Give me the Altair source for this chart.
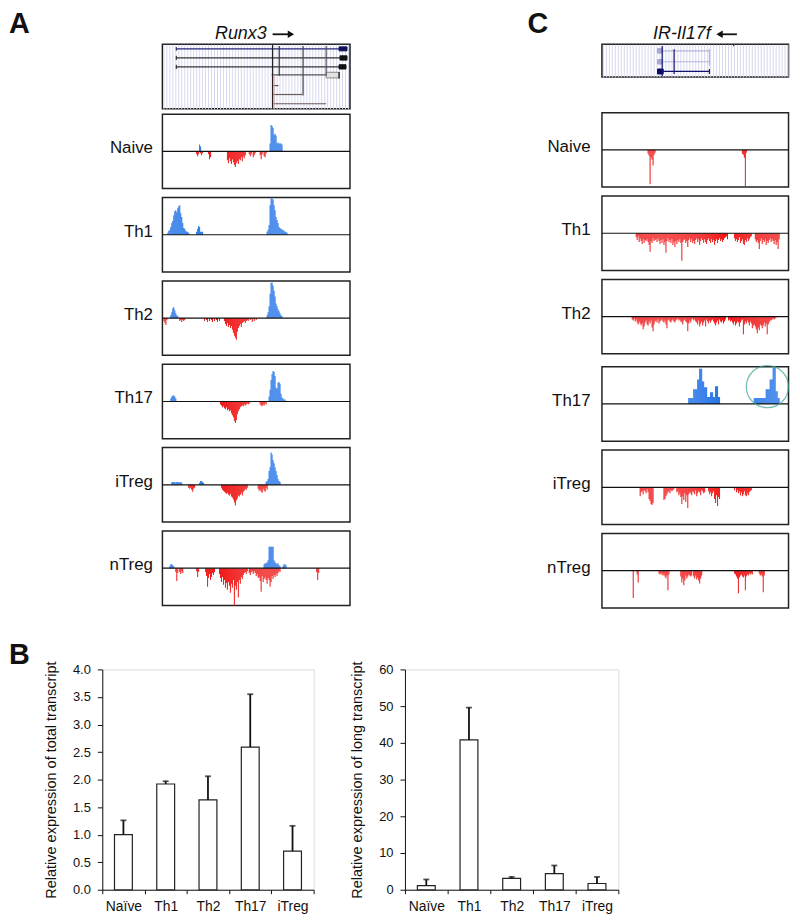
import altair as alt
import pandas as pd

FONT = "Liberation Sans"
BLUE = "#1a6de6"
RED = "#f01414"
INK = "#111111"

CELLS = ["Naive", "Th1", "Th2", "Th17", "iTreg", "nTreg"]
PANEL_LETTERS = ["A", "B", "C"]
GENE_TITLES = ["Runx3", "IR-Il17f"]

# ---------------- Panel A: Runx3 strand-specific read density (bin, values) ----------------
RUNX3_PLUS = {
    "Naive": [(37, [7, 5]), (108, [8, 27, 26, 24, 17, 18, 16, 8, 9, 8, 8, 8, 7])],
    "Th1": [(5, [2, 4, 5, 8, 12, 14, 20, 24, 25, 23, 27, 29, 30, 22, 18, 12, 7, 6, 4, 3, 3, 2]),
            (34, [3, 6, 9, 8, 3, 3, 3]),
            (105, [3, 5, 10, 30, 37, 37, 36, 30, 25, 18, 15, 12, 8, 7, 6, 5, 5, 4, 3, 3, 2])],
    "Th2": [(8, [3, 6, 10, 11, 8, 5, 3, 2]),
            (105, [3, 6, 12, 25, 36, 36, 33, 28, 22, 15, 12, 9, 7, 5, 3, 2])],
    "Th17": [(8, [3, 5, 6, 6, 5, 3]),
             (107, [5, 12, 22, 28, 31, 30, 26, 14, 13, 19, 20, 18, 8, 4, 3, 2, 2])],
    "iTreg": [(9, [3, 3, 3, 3, 2, 3, 3, 3, 2, 3, 2]), (37, [2, 4, 4, 3, 2]),
              (104, [3, 4, 6, 14, 18, 33, 31, 25, 22, 18, 14, 10, 6, 4, 3])],
    "nTreg": [(7, [2, 4, 4, 3, 2]),
              (102, [4, 5, 5, 6, 8, 22, 22, 22, 22, 22, 8, 6, 5, 4, 5, 3, 2]),
              (121, [2, 4, 4, 3])],
}
RUNX3_MINUS = {
    "Naive": [(34, [3, 5, 3, 0, 2, 4, 2]), (46, [3, 8, 6]),
              (65, [9, 12, 7, 10, 13, 8, 11, 14, 16, 12, 10, 13, 8, 9, 6, 10, 5, 7, 4]),
              (87, [3, 5, 3, 0, 6, 4, 2]), (98, [4, 8, 3, 0, 5, 6, 2])],
    "Th1": [],
    "Th2": [(1, [3, 5, 7, 2]), (17, [3, 2, 4, 2, 3, 2]),
            (42, [3, 0, 2, 4, 0, 3, 0, 2, 4, 0, 3, 0, 2, 4, 0, 3]),
            (62, [3, 6, 8, 5, 9, 7, 10, 8, 12, 15, 18, 20, 22, 14, 10, 8, 6, 9, 5, 4, 3, 5, 3, 2]),
            (86, [3, 0, 2, 0, 4, 0, 3, 0, 2])],
    "Th17": [(58, [3, 4, 6, 5, 7, 8, 6, 9, 8, 10, 9, 12, 14, 16, 20, 22, 19, 13, 10, 8,
                   6, 5, 4, 5, 3, 4, 3, 2, 3, 2]),
             (98, [3, 4, 5, 3, 4, 2, 3])],
    "iTreg": [(26, [3, 4, 3, 5, 7, 4, 3]),
              (59, [3, 5, 6, 7, 8, 9, 8, 10, 11, 9, 12, 13, 15, 18, 21, 16, 14, 11, 12, 10,
                    8, 11, 7, 6, 4, 5, 3]),
              (96, [4, 6, 5, 7, 8, 4, 6, 7, 3, 5])],
    "nTreg": [(13, [4, 13, 5, 0, 4, 6, 3, 5]), (34, [3, 9, 4]),
              (43, [4, 8, 19, 10, 6, 12, 9, 5, 7, 4]),
              (57, [6, 10, 14, 9, 17, 12, 20, 15, 22, 14, 18, 25, 16, 20, 12, 40, 18, 22, 14, 30,
                    12, 16, 9, 11, 7, 5]),
              (83, [4, 6, 3, 0, 5, 7, 4, 3, 6, 3]),
              (93, [5, 8, 6, 10, 9, 13, 24, 8, 14, 11, 9, 12, 16, 10, 12, 19, 14, 8, 11, 7,
                    9, 6, 8, 5, 3, 4]),
              (155, [4, 12, 5])],
}

# ---------------- Panel C: IR-Il17f ----------------
IL17F_PLUS = {
    "Naive": [], "Th1": [], "Th2": [], "iTreg": [], "nTreg": [],
    "Th17": [(87, [6, 6, 6, 6, 6, 15, 15, 15, 15, 25, 25, 36, 36, 36, 23, 23, 17, 17, 17, 7,
                   7, 7, 12, 12, 12, 7, 7, 18, 18, 18, 7, 7]),
             (153, [6, 6, 6, 6, 6, 6, 6, 6, 6, 6, 6, 6, 15, 15, 15, 15, 25, 25, 25, 37, 37, 37,
                    13, 13, 6, 6])],
}
IL17F_MINUS = {
    "Naive": [(46, [4, 6, 35, 8, 10, 16, 5, 3]), (141, [4, 5, 8, 37, 3])],
    "Th1": [(34, [4, 7, 3, 9, 5, 8, 11, 6, 10, 7, 8, 6, 9, 12, 19, 8, 10, 5, 8, 7,
                  6, 9, 5, 8, 11, 7, 10, 6, 12, 9, 20, 8, 5, 9, 7, 10, 6, 12, 9, 14,
                  8, 11, 7, 9, 6, 10, 28, 9, 7, 6, 10, 8, 14, 7, 5, 9, 6, 10, 8, 11,
                  7, 5, 9, 6, 12, 8, 5, 7, 10, 6, 9, 11, 7, 5, 8, 10, 6, 9, 7, 12,
                  8, 6, 10, 7, 5, 8, 6, 9, 7, 5, 4, 3, 6]),
            (133, [5, 8, 6, 9, 7, 4, 10, 8, 6, 11, 12, 7, 9, 5, 8, 6, 4, 3]),
            (154, [6, 9, 7, 10, 16, 8, 5, 11, 7, 9, 6, 12, 8, 10, 7, 5, 9, 6, 8, 11,
                   7, 12, 9, 16, 6])],
    "Th2": [(30, [3, 4, 2, 5, 3, 6, 8, 5, 7, 9, 7, 13, 10, 6, 4, 8, 9, 5, 7, 4,
                  11, 15, 8, 5, 4, 6, 3, 7, 5, 4, 3, 5, 6, 4, 8, 12, 4, 3, 5, 6,
                  4, 3, 5, 6, 4, 3, 2, 4, 3, 5, 6, 8, 4, 3, 5, 6, 15, 7, 4, 6,
                  3, 2, 4, 3, 5, 6, 8, 4, 10, 7, 5, 9, 6, 4, 10, 3, 5, 7, 4, 6,
                  4, 3, 5, 7, 9, 6, 4, 8, 3, 5, 6, 4, 7, 5, 3, 0, 0, 4, 3, 5,
                  4, 6, 8, 5, 9, 7, 5, 6, 10, 6, 4, 3, 18, 8, 5, 7, 4, 6, 9, 5,
                  7, 12, 9, 8, 10, 13, 17, 11, 14, 8, 9, 12, 9, 6, 10, 7, 18, 8, 6, 4,
                  4, 3, 2, 3, 2, 1])],
    "Th17": [],
    "iTreg": [(38, [9, 5, 4, 7, 3, 4, 6, 2, 5, 12, 14, 17, 18, 16]),
              (62, [13, 12, 9, 7, 5, 4, 6, 3, 4, 3, 2]),
              (75, [5, 4, 8, 6, 10, 17, 9, 13, 6, 15, 8, 21, 7, 5]),
              (89, [6, 8, 4, 5, 7, 3, 9, 6, 4, 5, 8, 3, 4, 6, 5]),
              (107, [4, 7, 5, 9, 6, 4, 12, 16, 8, 19, 10, 12]),
              (133, [3, 0, 5, 3, 6, 4, 8, 5, 9, 7, 4, 8, 9, 6, 8, 5, 4, 3])],
    "nTreg": [(31, [28]), (35, [4, 12]),
              (57, [3, 4, 3, 4, 5, 4, 6, 8, 5, 20, 4]),
              (79, [6, 12, 8, 15, 10, 5, 8, 6, 4, 5, 6, 5]),
              (92, [6, 8, 5, 9, 7, 10, 13, 8, 5]),
              (133, [3, 4, 6, 8, 23, 7, 5, 4, 6, 7, 5, 20, 6, 4, 5, 3, 4, 3, 4]),
              (158, [3, 5, 4, 6, 22, 5])],
}
IL17F_HIGHLIGHT = {"cell": ["Th17"], "bin": [166.7], "v": [17.7]}

# ---------------- Gene models ----------------
RUNX3_LINES = {"x1": [14, 14, 14, 110, 111, 111, 111],
               "x2": [178, 179, 178, 178, 117, 141, 165],
               "y": [4.7, 13.8, 22.8, 31, 41.7, 50.7, 60],
               "c": ["#26267a", "#333333", "#333333", "#555555", "#5a5050", "#6a5a5a", "#6a5a5a"]}
RUNX3_EXONS = {"x1": [178, 179, 178, 165], "x2": [186, 186, 185, 178],
               "y1": [2.7, 11.7, 20.7, 28.3], "y2": [6.7, 16, 25, 34],
               "c": ["#10105a", "#111111", "#111111", "#e2e2e2"],
               "s": ["#10105a", "#111111", "#111111", "#8a8a8a"]}
RUNX3_VERTS = {"x": [111, 117.7, 141.7, 165, 112.5, 14, 14, 14, 178],
               "y1": [0, 1.7, 1.7, 1.7, 31, 2.7, 11.7, 20.7, 28],
               "y2": [65, 31.7, 51.7, 31.7, 65, 6.7, 16, 25, 34.5],
               "c": ["#222222", "#333333", "#444444", "#555555", "#e6a0a0",
                     "#333366", "#333333", "#333333", "#111111"]}

IL17F_LINES = {"x1": [60.7, 60.7, 61.7], "x2": [108.3, 108.3, 108.3],
               "y": [6.7, 17.7, 27.3], "c": ["#b4b4de", "#b4b4de", "#10106e"]}
IL17F_EXONS = {"x1": [56, 56, 56], "x2": [60.7, 60.7, 61.7],
               "y1": [4.3, 15.5, 25], "y2": [9, 20, 30],
               "c": ["#a8a8d8", "#a8a8d8", "#0a0a6a"], "s": ["#a8a8d8", "#a8a8d8", "#0a0a6a"]}
IL17F_VERTS = {"x": [60.7, 72.7, 108.3, 108.3, 132.7],
               "y1": [1.7, 5, 5, 25, 0.3], "y2": [32.3, 30, 21.7, 30, 2],
               "c": ["#10106e", "#10106e", "#b4b4de", "#10106e", "#333333"]}

# ---------------- Panel B: qPCR ----------------
QPCR_CELLS = ["Naïve", "Th1", "Th2", "Th17", "iTreg"]
TOTAL_MEAN = [1.0, 1.92, 1.63, 2.59, 0.70]
TOTAL_HI = [1.26, 1.97, 2.06, 3.55, 1.16]
LONG_MEAN = [1.1, 40.8, 3.1, 4.4, 1.7]
LONG_HI = [2.8, 49.6, 3.5, 6.6, 3.5]
TOTAL_TICKS = [0, 0.5, 1.0, 1.5, 2.0, 2.5, 3.0, 3.5, 4.0]
LONG_TICKS = [0, 10, 20, 30, 40, 50, 60]


def runs_to_df(plus, minus):
    rows = []
    for strand, runs, sign in (("plus", plus, 1), ("minus", minus, -1)):
        for start, vals in runs:
            for i, v in enumerate(vals):
                if v:
                    rows.append({"bin": start + i, "bin_end": start + i + 1,
                                 "v": sign * v, "base": 0, "strand": strand})
    return pd.DataFrame(rows, columns=["bin", "bin_end", "v", "base", "strand"])


ZERO = pd.DataFrame({"base": [0]})
TRACK_BOX = alt.ViewBackground(stroke="#222222", strokeWidth=1.5)


def letter_mark(letter, x, y):
    return alt.Chart(pd.DataFrame({"t": [letter]})).mark_text(
        align="left", baseline="alphabetic", fontSize=29, fontWeight="bold", font=FONT, color=INK
    ).encode(text="t:N", x=alt.value(x), y=alt.value(y))


def track(df, label, width, title_x, highlight=None):
    xs = alt.Scale(domain=[0, width], nice=False, zero=False)
    ys = alt.Scale(domain=[-38, 38], nice=False, zero=False)
    yaxis = alt.Axis(title=label, titleAngle=0, titleAlign="right", titleBaseline="middle",
                     titleX=title_x, titleY=34, titleFontSize=17, titleFontWeight="normal",
                     titleFont=FONT, titleColor=INK, labels=False, ticks=False,
                     domain=False, grid=False)
    bars = alt.Chart(df).mark_rect(clip=True).encode(
        x=alt.X("bin:Q", scale=xs, axis=None),
        x2="bin_end:Q",
        y=alt.Y("v:Q", scale=ys, axis=yaxis),
        y2="base:Q",
        color=alt.Color("strand:N", scale=alt.Scale(domain=["plus", "minus"], range=[BLUE, RED]),
                        legend=None),
    )
    mid = alt.Chart(ZERO).mark_rule(color=INK, strokeWidth=1.2).encode(
        y=alt.Y("base:Q", scale=ys, axis=yaxis))
    layers = [bars, mid]
    if highlight is not None:
        layers.append(alt.Chart(highlight).mark_point(
            shape="circle", size=1800, filled=False, color="#3aa597", strokeWidth=1.3
        ).encode(x=alt.X("bin:Q", scale=xs, axis=None), y=alt.Y("v:Q", scale=ys, axis=yaxis)))
    return alt.layer(*layers).properties(width=width, height=75, view=TRACK_BOX)


def gene_chart(lines, exons, verts, width, height, title, title_x, arrow, letter=None):
    xs = alt.Scale(domain=[0, width], nice=False, zero=False)
    ys = alt.Scale(domain=[0, height], nice=False, zero=False, reverse=True)
    stripes = alt.Axis(values=list(range(1, width, 3)), grid=True, gridColor="#d6d8ee",
                       gridWidth=1, labels=False, ticks=False, domain=False, title=None)
    hl = alt.Chart(pd.DataFrame(lines)).mark_rule(strokeWidth=1.2).encode(
        x=alt.X("x1:Q", scale=xs, axis=stripes), x2="x2:Q",
        y=alt.Y("y:Q", scale=ys, axis=None), color=alt.Color("c:N", scale=None))
    ex = alt.Chart(pd.DataFrame(exons)).mark_rect(strokeWidth=1).encode(
        x=alt.X("x1:Q", scale=xs, axis=stripes), x2="x2:Q",
        y=alt.Y("y1:Q", scale=ys, axis=None), y2="y2:Q",
        fill=alt.Fill("c:N", scale=None), stroke=alt.Stroke("s:N", scale=None))
    vl = alt.Chart(pd.DataFrame(verts)).mark_rule(strokeWidth=1.2).encode(
        x=alt.X("x:Q", scale=xs, axis=stripes),
        y=alt.Y("y1:Q", scale=ys, axis=None), y2="y2:Q",
        color=alt.Color("c:N", scale=None))
    one = pd.DataFrame({"g": [title]})
    tt = alt.Chart(one).mark_text(
        align="center", baseline="alphabetic", fontSize=18, fontStyle="italic", font=FONT, color=INK
    ).encode(text="g:N", x=alt.value(title_x), y=alt.value(-5))
    shaft_x1, shaft_x2, head_x, head_shape = arrow
    shaft = alt.Chart(one).mark_rule(color=INK, strokeWidth=1.8).encode(
        x=alt.value(shaft_x1), x2=alt.value(shaft_x2), y=alt.value(-10))
    head = alt.Chart(one).mark_point(shape=head_shape, filled=True, size=55, color=INK,
                                     opacity=1).encode(x=alt.value(head_x), y=alt.value(-10))
    layers = [hl, ex, vl, tt, shaft, head]
    if letter is not None:
        layers.append(letter_mark(*letter))
    return alt.layer(*layers).properties(
        width=width, height=height,
        view=alt.ViewBackground(stroke="#1a1a1a", strokeWidth=1.5),
    )


def bar_chart(means, his, ymax, ticks, fmt, ytitle, width, letter=None):
    df = pd.DataFrame({"cell": QPCR_CELLS, "v": means, "hi": his})
    xaxis = alt.Axis(title=None, labelAngle=0, tickBand="extent", labelFontSize=14,
                     labelFont=FONT, labelColor=INK, labelPadding=6, tickSize=4,
                     tickColor=INK, domainColor=INK, grid=False)
    yaxis = alt.Axis(title=ytitle, values=ticks, format=fmt, labelFontSize=13, labelFont=FONT,
                     labelColor=INK, labelPadding=7, tickSize=5, tickColor=INK,
                     domainColor=INK, grid=False, titleFontSize=14.6, titleFont=FONT,
                     titleFontWeight="normal", titleColor=INK, titlePadding=14)
    xs = alt.Scale(paddingInner=0, paddingOuter=0)
    ys = alt.Scale(domain=[0, ymax], nice=False)
    x = alt.X("cell:N", sort=QPCR_CELLS, scale=xs, axis=xaxis)
    bars = alt.Chart(df).mark_bar(size=18, fill="white", stroke="#222222", strokeWidth=1.2).encode(
        x=x, y=alt.Y("v:Q", scale=ys, axis=yaxis))
    err = alt.Chart(df).mark_rule(color=INK, strokeWidth=1.8).encode(
        x=x, y=alt.Y("v:Q", scale=ys, axis=yaxis), y2="hi:Q")
    cap = alt.Chart(df).mark_tick(color=INK, thickness=1.8, size=6).encode(
        x=x, y=alt.Y("hi:Q", scale=ys, axis=yaxis))
    layers = [bars, err, cap]
    if letter is not None:
        layers.append(letter_mark(*letter))
    return alt.layer(*layers).properties(width=width, height=222)


# letter A sits in a tiny holder cell whose origin lines up with panel B's y-axis
holder_a = letter_mark(PANEL_LETTERS[0], -94, -11).properties(
    width=1, height=1,
    view=alt.ViewBackground(stroke="transparent", fill="transparent", strokeWidth=0))

gene_a = gene_chart(RUNX3_LINES, RUNX3_EXONS, RUNX3_VERTS, 189, 65, GENE_TITLES[0], 79,
                    (111, 128, 129.5, "triangle-right"))
tracks_a = [track(runs_to_df(RUNX3_PLUS[c], RUNX3_MINUS[c]), c, 189, -10) for c in CELLS]
col_a = alt.vconcat(gene_a, alt.vconcat(*tracks_a, spacing=7), spacing=2.5)

gene_c = gene_chart(IL17F_LINES, IL17F_EXONS, IL17F_VERTS, 188, 33, GENE_TITLES[1], 80.5,
                    (119, 136, 118.5, "triangle-left"), (PANEL_LETTERS[2], -75, -11))
hl_df = pd.DataFrame(IL17F_HIGHLIGHT)
tracks_c = [track(runs_to_df(IL17F_PLUS[c], IL17F_MINUS[c]), c, 188, -12,
                  hl_df if c == "Th17" else None) for c in CELLS]
col_c = alt.vconcat(gene_c, alt.vconcat(*tracks_c, spacing=7), spacing=34)

top = alt.hconcat(alt.hconcat(holder_a, col_a, spacing=4.6), col_c, spacing=176.5)

bar_total = bar_chart(TOTAL_MEAN, TOTAL_HI, 4.0, TOTAL_TICKS, ".1f",
                      "Relative expression of total transcript", 213,
                      (PANEL_LETTERS[1], -94, -5))
bar_long = bar_chart(LONG_MEAN, LONG_HI, 60, LONG_TICKS, "d",
                     "Relative expression of long transcript", 215)
bottom = alt.hconcat(bar_total, bar_long, spacing=35)

chart = alt.concat(top, bottom, columns=1, spacing=32, align="none").properties(
    padding={"left": 0, "top": -2, "right": 0, "bottom": 0}
).configure_view(strokeWidth=0).configure(background="white")

chart.save("out.html", embed_options={"renderer": "svg", "actions": False})
